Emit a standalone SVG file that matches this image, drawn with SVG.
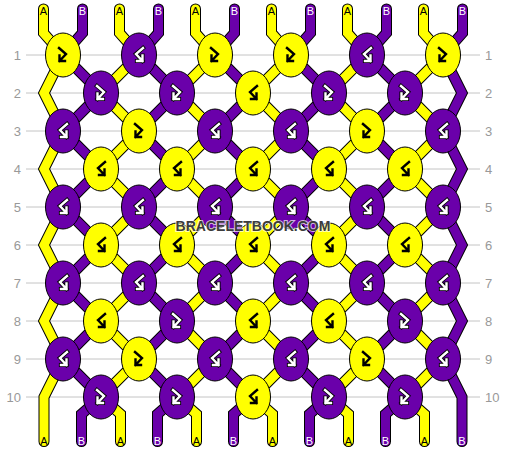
<svg xmlns="http://www.w3.org/2000/svg" xmlns:xlink="http://www.w3.org/1999/xlink" width="506" height="452" viewBox="0 0 506 452">
<style>
.grid line{stroke:#c4c4c4;stroke-width:1}
.rl{font-family:"Liberation Sans",Arial,sans-serif;font-size:13px;fill:#999}
.so{fill:none;stroke:#000;stroke-width:11;stroke-linejoin:miter;stroke-linecap:round}
.sy{fill:none;stroke:#ffff00;stroke-width:9;stroke-linejoin:miter;stroke-linecap:round}
.sp{fill:none;stroke:#6a00aa;stroke-width:9;stroke-linejoin:miter;stroke-linecap:round}
.ky{fill:#ffff00;stroke:#000;stroke-width:1}
.kp{fill:#6a00aa;stroke:#000;stroke-width:1}
.gk{fill:none;stroke:#000;stroke-width:2.4;stroke-linecap:square;stroke-linejoin:miter}
.go{fill:none;stroke:#000;stroke-width:4.2;stroke-linecap:square;stroke-linejoin:miter}
.gw{fill:none;stroke:#fff;stroke-width:2.4;stroke-linecap:square;stroke-linejoin:miter}
.la{font-family:"Liberation Sans",Arial,sans-serif;font-size:11px;text-anchor:middle;fill:#000}
.lb{font-family:"Liberation Sans",Arial,sans-serif;font-size:11px;text-anchor:middle;fill:#fff}
.wm{font-family:"Liberation Sans",Arial,sans-serif;font-size:14px;font-weight:bold;text-anchor:middle;fill:#3c3c3c;stroke:#fff;stroke-width:2;stroke-opacity:0.7;paint-order:stroke}
</style>
<defs>
<path id="fb" d="M-4,-7 L3,-1 L-3.5,6 M-3.5,0.5 V6 H2"/>
<path id="bf" d="M4,-7 L-3,-1 L3.5,6 M3.5,0.5 V6 H-2"/>
</defs>
<g class="grid">
<line x1="26" y1="55" x2="480" y2="55"/><line x1="26" y1="93" x2="480" y2="93"/><line x1="26" y1="131" x2="480" y2="131"/><line x1="26" y1="169" x2="480" y2="169"/><line x1="26" y1="207" x2="480" y2="207"/><line x1="26" y1="245" x2="480" y2="245"/><line x1="26" y1="283" x2="480" y2="283"/><line x1="26" y1="321" x2="480" y2="321"/><line x1="26" y1="359" x2="480" y2="359"/><line x1="26" y1="397" x2="480" y2="397"/>
</g>
<g id="row-labels" class="rl">
<g text-anchor="end">
<text x="21" y="59.5">1</text><text x="21" y="97.5">2</text><text x="21" y="135.5">3</text><text x="21" y="173.5">4</text><text x="21" y="211.5">5</text><text x="21" y="249.5">6</text><text x="21" y="287.5">7</text><text x="21" y="325.5">8</text><text x="21" y="363.5">9</text><text x="21" y="401.5">10</text>
</g>
<g>
<text x="485" y="59.5">1</text><text x="485" y="97.5">2</text><text x="485" y="135.5">3</text><text x="485" y="173.5">4</text><text x="485" y="211.5">5</text><text x="485" y="249.5">6</text><text x="485" y="287.5">7</text><text x="485" y="325.5">8</text><text x="485" y="363.5">9</text><text x="485" y="401.5">10</text>
</g>
</g>
<g id="connectors">
<path id="s1" class="so" d="M43.5,9 V33 L63,55 L44,93 L63,131 L44,169 L63,207 L44,245 L63,283 L44,321 L63,359 L44,397 V441.5"/>
<path class="sy" d="M43.5,9 V33 L63,55 L44,93 L63,131 L44,169 L63,207 L44,245 L63,283 L44,321 L63,359 L44,397 V441.5"/>
<path id="s2" class="so" d="M82.5,9 V33 L63,55 L101,93 L63,131 L101,169 L63,207 L101,245 L63,283 L101,321 L63,359 L101,397 L81.5,414 V441.5"/>
<path class="sp" d="M82.5,9 V33 L63,55 L101,93 L63,131 L101,169 L63,207 L101,245 L63,283 L101,321 L63,359 L101,397 L81.5,414 V441.5"/>
<path id="s3" class="so" d="M119.5,9 V33 L139,55 L101,93 L139,131 L101,169 L139,207 L101,245 L139,283 L101,321 L139,359 L101,397 L120.5,414 V441.5"/>
<path class="sy" d="M119.5,9 V33 L139,55 L101,93 L139,131 L101,169 L139,207 L101,245 L139,283 L101,321 L139,359 L101,397 L120.5,414 V441.5"/>
<path id="s4" class="so" d="M158.5,9 V33 L139,55 L177,93 L139,131 L177,169 L139,207 L177,245 L139,283 L177,321 L139,359 L177,397 L157.5,414 V441.5"/>
<path class="sp" d="M158.5,9 V33 L139,55 L177,93 L139,131 L177,169 L139,207 L177,245 L139,283 L177,321 L139,359 L177,397 L157.5,414 V441.5"/>
<path id="s5" class="so" d="M195.5,9 V33 L215,55 L177,93 L215,131 L177,169 L215,207 L177,245 L215,283 L177,321 L215,359 L177,397 L196.5,414 V441.5"/>
<path class="sy" d="M195.5,9 V33 L215,55 L177,93 L215,131 L177,169 L215,207 L177,245 L215,283 L177,321 L215,359 L177,397 L196.5,414 V441.5"/>
<path id="s6" class="so" d="M234.5,9 V33 L215,55 L253,93 L215,131 L253,169 L215,207 L253,245 L215,283 L253,321 L215,359 L253,397 L233.5,414 V441.5"/>
<path class="sp" d="M234.5,9 V33 L215,55 L253,93 L215,131 L253,169 L215,207 L253,245 L215,283 L253,321 L215,359 L253,397 L233.5,414 V441.5"/>
<path id="s7" class="so" d="M271.5,9 V33 L291,55 L253,93 L291,131 L253,169 L291,207 L253,245 L291,283 L253,321 L291,359 L253,397 L272.5,414 V441.5"/>
<path class="sy" d="M271.5,9 V33 L291,55 L253,93 L291,131 L253,169 L291,207 L253,245 L291,283 L253,321 L291,359 L253,397 L272.5,414 V441.5"/>
<path id="s8" class="so" d="M310.5,9 V33 L291,55 L329,93 L291,131 L329,169 L291,207 L329,245 L291,283 L329,321 L291,359 L329,397 L309.5,414 V441.5"/>
<path class="sp" d="M310.5,9 V33 L291,55 L329,93 L291,131 L329,169 L291,207 L329,245 L291,283 L329,321 L291,359 L329,397 L309.5,414 V441.5"/>
<path id="s9" class="so" d="M347.5,9 V33 L367,55 L329,93 L367,131 L329,169 L367,207 L329,245 L367,283 L329,321 L367,359 L329,397 L348.5,414 V441.5"/>
<path class="sy" d="M347.5,9 V33 L367,55 L329,93 L367,131 L329,169 L367,207 L329,245 L367,283 L329,321 L367,359 L329,397 L348.5,414 V441.5"/>
<path id="s10" class="so" d="M386.5,9 V33 L367,55 L405,93 L367,131 L405,169 L367,207 L405,245 L367,283 L405,321 L367,359 L405,397 L385.5,414 V441.5"/>
<path class="sp" d="M386.5,9 V33 L367,55 L405,93 L367,131 L405,169 L367,207 L405,245 L367,283 L405,321 L367,359 L405,397 L385.5,414 V441.5"/>
<path id="s11" class="so" d="M423.5,9 V33 L443,55 L405,93 L443,131 L405,169 L443,207 L405,245 L443,283 L405,321 L443,359 L405,397 L424.5,414 V441.5"/>
<path class="sy" d="M423.5,9 V33 L443,55 L405,93 L443,131 L405,169 L443,207 L405,245 L443,283 L405,321 L443,359 L405,397 L424.5,414 V441.5"/>
<path id="s12" class="so" d="M462.5,9 V33 L443,55 L462,93 L443,131 L462,169 L443,207 L462,245 L443,283 L462,321 L443,359 L462,397 V441.5"/>
<path class="sp" d="M462.5,9 V33 L443,55 L462,93 L443,131 L462,169 L443,207 L462,245 L443,283 L462,321 L443,359 L462,397 V441.5"/>
</g>
<g id="strand-labels">
<text class="la" x="43.5" y="15">A</text><text class="lb" x="82.5" y="15">B</text><text class="la" x="119.5" y="15">A</text><text class="lb" x="158.5" y="15">B</text><text class="la" x="195.5" y="15">A</text><text class="lb" x="234.5" y="15">B</text><text class="la" x="271.5" y="15">A</text><text class="lb" x="310.5" y="15">B</text><text class="la" x="347.5" y="15">A</text><text class="lb" x="386.5" y="15">B</text><text class="la" x="423.5" y="15">A</text><text class="lb" x="462.5" y="15">B</text>
<text class="la" x="44" y="445">A</text><text class="lb" x="81.5" y="445">B</text><text class="la" x="120.5" y="445">A</text><text class="lb" x="157.5" y="445">B</text><text class="la" x="196.5" y="445">A</text><text class="lb" x="233.5" y="445">B</text><text class="la" x="272.5" y="445">A</text><text class="lb" x="309.5" y="445">B</text><text class="la" x="348.5" y="445">A</text><text class="lb" x="385.5" y="445">B</text><text class="la" x="424.5" y="445">A</text><text class="lb" x="462" y="445">B</text>
</g>
<g id="knots">
<!-- row 1 -->
<g id="k1-1"><ellipse class="ky" cx="63" cy="55" rx="17.5" ry="22"/><use xlink:href="#fb" class="gk" x="63" y="55"/></g>
<g id="k1-2"><ellipse class="kp" cx="139" cy="55" rx="17.5" ry="22"/><use xlink:href="#bf" class="go" x="139" y="55"/><use xlink:href="#bf" class="gw" x="139" y="55"/></g>
<g id="k1-3"><ellipse class="ky" cx="215" cy="55" rx="17.5" ry="22"/><use xlink:href="#fb" class="gk" x="215" y="55"/></g>
<g id="k1-4"><ellipse class="ky" cx="291" cy="55" rx="17.5" ry="22"/><use xlink:href="#fb" class="gk" x="291" y="55"/></g>
<g id="k1-5"><ellipse class="kp" cx="367" cy="55" rx="17.5" ry="22"/><use xlink:href="#bf" class="go" x="367" y="55"/><use xlink:href="#bf" class="gw" x="367" y="55"/></g>
<g id="k1-6"><ellipse class="ky" cx="443" cy="55" rx="17.5" ry="22"/><use xlink:href="#fb" class="gk" x="443" y="55"/></g>
<!-- row 2 -->
<g id="k2-1"><ellipse class="kp" cx="101" cy="93" rx="17.5" ry="22"/><use xlink:href="#fb" class="go" x="101" y="93"/><use xlink:href="#fb" class="gw" x="101" y="93"/></g>
<g id="k2-2"><ellipse class="kp" cx="177" cy="93" rx="17.5" ry="22"/><use xlink:href="#fb" class="go" x="177" y="93"/><use xlink:href="#fb" class="gw" x="177" y="93"/></g>
<g id="k2-3"><ellipse class="ky" cx="253" cy="93" rx="17.5" ry="22"/><use xlink:href="#bf" class="gk" x="253" y="93"/></g>
<g id="k2-4"><ellipse class="kp" cx="329" cy="93" rx="17.5" ry="22"/><use xlink:href="#fb" class="go" x="329" y="93"/><use xlink:href="#fb" class="gw" x="329" y="93"/></g>
<g id="k2-5"><ellipse class="kp" cx="405" cy="93" rx="17.5" ry="22"/><use xlink:href="#fb" class="go" x="405" y="93"/><use xlink:href="#fb" class="gw" x="405" y="93"/></g>
<!-- row 3 -->
<g id="k3-1"><ellipse class="kp" cx="63" cy="131" rx="17.5" ry="22"/><use xlink:href="#bf" class="go" x="63" y="131"/><use xlink:href="#bf" class="gw" x="63" y="131"/></g>
<g id="k3-2"><ellipse class="ky" cx="139" cy="131" rx="17.5" ry="22"/><use xlink:href="#fb" class="gk" x="139" y="131"/></g>
<g id="k3-3"><ellipse class="kp" cx="215" cy="131" rx="17.5" ry="22"/><use xlink:href="#bf" class="go" x="215" y="131"/><use xlink:href="#bf" class="gw" x="215" y="131"/></g>
<g id="k3-4"><ellipse class="kp" cx="291" cy="131" rx="17.5" ry="22"/><use xlink:href="#bf" class="go" x="291" y="131"/><use xlink:href="#bf" class="gw" x="291" y="131"/></g>
<g id="k3-5"><ellipse class="ky" cx="367" cy="131" rx="17.5" ry="22"/><use xlink:href="#fb" class="gk" x="367" y="131"/></g>
<g id="k3-6"><ellipse class="kp" cx="443" cy="131" rx="17.5" ry="22"/><use xlink:href="#bf" class="go" x="443" y="131"/><use xlink:href="#bf" class="gw" x="443" y="131"/></g>
<!-- row 4 -->
<g id="k4-1"><ellipse class="ky" cx="101" cy="169" rx="17.5" ry="22"/><use xlink:href="#bf" class="gk" x="101" y="169"/></g>
<g id="k4-2"><ellipse class="ky" cx="177" cy="169" rx="17.5" ry="22"/><use xlink:href="#bf" class="gk" x="177" y="169"/></g>
<g id="k4-3"><ellipse class="ky" cx="253" cy="169" rx="17.5" ry="22"/><use xlink:href="#bf" class="gk" x="253" y="169"/></g>
<g id="k4-4"><ellipse class="ky" cx="329" cy="169" rx="17.5" ry="22"/><use xlink:href="#bf" class="gk" x="329" y="169"/></g>
<g id="k4-5"><ellipse class="ky" cx="405" cy="169" rx="17.5" ry="22"/><use xlink:href="#bf" class="gk" x="405" y="169"/></g>
<!-- row 5 -->
<g id="k5-1"><ellipse class="kp" cx="63" cy="207" rx="17.5" ry="22"/><use xlink:href="#bf" class="go" x="63" y="207"/><use xlink:href="#bf" class="gw" x="63" y="207"/></g>
<g id="k5-2"><ellipse class="kp" cx="139" cy="207" rx="17.5" ry="22"/><use xlink:href="#bf" class="go" x="139" y="207"/><use xlink:href="#bf" class="gw" x="139" y="207"/></g>
<g id="k5-3"><ellipse class="kp" cx="215" cy="207" rx="17.5" ry="22"/><use xlink:href="#bf" class="go" x="215" y="207"/><use xlink:href="#bf" class="gw" x="215" y="207"/></g>
<g id="k5-4"><ellipse class="kp" cx="291" cy="207" rx="17.5" ry="22"/><use xlink:href="#bf" class="go" x="291" y="207"/><use xlink:href="#bf" class="gw" x="291" y="207"/></g>
<g id="k5-5"><ellipse class="kp" cx="367" cy="207" rx="17.5" ry="22"/><use xlink:href="#bf" class="go" x="367" y="207"/><use xlink:href="#bf" class="gw" x="367" y="207"/></g>
<g id="k5-6"><ellipse class="kp" cx="443" cy="207" rx="17.5" ry="22"/><use xlink:href="#bf" class="go" x="443" y="207"/><use xlink:href="#bf" class="gw" x="443" y="207"/></g>
<!-- row 6 -->
<g id="k6-1"><ellipse class="ky" cx="101" cy="245" rx="17.5" ry="22"/><use xlink:href="#bf" class="gk" x="101" y="245"/></g>
<g id="k6-2"><ellipse class="ky" cx="177" cy="245" rx="17.5" ry="22"/><use xlink:href="#bf" class="gk" x="177" y="245"/></g>
<g id="k6-3"><ellipse class="ky" cx="253" cy="245" rx="17.5" ry="22"/><use xlink:href="#bf" class="gk" x="253" y="245"/></g>
<g id="k6-4"><ellipse class="ky" cx="329" cy="245" rx="17.5" ry="22"/><use xlink:href="#bf" class="gk" x="329" y="245"/></g>
<g id="k6-5"><ellipse class="ky" cx="405" cy="245" rx="17.5" ry="22"/><use xlink:href="#bf" class="gk" x="405" y="245"/></g>
<!-- row 7 -->
<g id="k7-1"><ellipse class="kp" cx="63" cy="283" rx="17.5" ry="22"/><use xlink:href="#bf" class="go" x="63" y="283"/><use xlink:href="#bf" class="gw" x="63" y="283"/></g>
<g id="k7-2"><ellipse class="kp" cx="139" cy="283" rx="17.5" ry="22"/><use xlink:href="#bf" class="go" x="139" y="283"/><use xlink:href="#bf" class="gw" x="139" y="283"/></g>
<g id="k7-3"><ellipse class="kp" cx="215" cy="283" rx="17.5" ry="22"/><use xlink:href="#bf" class="go" x="215" y="283"/><use xlink:href="#bf" class="gw" x="215" y="283"/></g>
<g id="k7-4"><ellipse class="kp" cx="291" cy="283" rx="17.5" ry="22"/><use xlink:href="#bf" class="go" x="291" y="283"/><use xlink:href="#bf" class="gw" x="291" y="283"/></g>
<g id="k7-5"><ellipse class="kp" cx="367" cy="283" rx="17.5" ry="22"/><use xlink:href="#bf" class="go" x="367" y="283"/><use xlink:href="#bf" class="gw" x="367" y="283"/></g>
<g id="k7-6"><ellipse class="kp" cx="443" cy="283" rx="17.5" ry="22"/><use xlink:href="#bf" class="go" x="443" y="283"/><use xlink:href="#bf" class="gw" x="443" y="283"/></g>
<!-- row 8 -->
<g id="k8-1"><ellipse class="ky" cx="101" cy="321" rx="17.5" ry="22"/><use xlink:href="#bf" class="gk" x="101" y="321"/></g>
<g id="k8-2"><ellipse class="kp" cx="177" cy="321" rx="17.5" ry="22"/><use xlink:href="#fb" class="go" x="177" y="321"/><use xlink:href="#fb" class="gw" x="177" y="321"/></g>
<g id="k8-3"><ellipse class="ky" cx="253" cy="321" rx="17.5" ry="22"/><use xlink:href="#bf" class="gk" x="253" y="321"/></g>
<g id="k8-4"><ellipse class="ky" cx="329" cy="321" rx="17.5" ry="22"/><use xlink:href="#bf" class="gk" x="329" y="321"/></g>
<g id="k8-5"><ellipse class="kp" cx="405" cy="321" rx="17.5" ry="22"/><use xlink:href="#fb" class="go" x="405" y="321"/><use xlink:href="#fb" class="gw" x="405" y="321"/></g>
<!-- row 9 -->
<g id="k9-1"><ellipse class="kp" cx="63" cy="359" rx="17.5" ry="22"/><use xlink:href="#bf" class="go" x="63" y="359"/><use xlink:href="#bf" class="gw" x="63" y="359"/></g>
<g id="k9-2"><ellipse class="ky" cx="139" cy="359" rx="17.5" ry="22"/><use xlink:href="#fb" class="gk" x="139" y="359"/></g>
<g id="k9-3"><ellipse class="kp" cx="215" cy="359" rx="17.5" ry="22"/><use xlink:href="#bf" class="go" x="215" y="359"/><use xlink:href="#bf" class="gw" x="215" y="359"/></g>
<g id="k9-4"><ellipse class="kp" cx="291" cy="359" rx="17.5" ry="22"/><use xlink:href="#bf" class="go" x="291" y="359"/><use xlink:href="#bf" class="gw" x="291" y="359"/></g>
<g id="k9-5"><ellipse class="ky" cx="367" cy="359" rx="17.5" ry="22"/><use xlink:href="#fb" class="gk" x="367" y="359"/></g>
<g id="k9-6"><ellipse class="kp" cx="443" cy="359" rx="17.5" ry="22"/><use xlink:href="#bf" class="go" x="443" y="359"/><use xlink:href="#bf" class="gw" x="443" y="359"/></g>
<!-- row 10 -->
<g id="k10-1"><ellipse class="kp" cx="101" cy="397" rx="17.5" ry="22"/><use xlink:href="#fb" class="go" x="101" y="397"/><use xlink:href="#fb" class="gw" x="101" y="397"/></g>
<g id="k10-2"><ellipse class="kp" cx="177" cy="397" rx="17.5" ry="22"/><use xlink:href="#fb" class="go" x="177" y="397"/><use xlink:href="#fb" class="gw" x="177" y="397"/></g>
<g id="k10-3"><ellipse class="ky" cx="253" cy="397" rx="17.5" ry="22"/><use xlink:href="#bf" class="gk" x="253" y="397"/></g>
<g id="k10-4"><ellipse class="kp" cx="329" cy="397" rx="17.5" ry="22"/><use xlink:href="#fb" class="go" x="329" y="397"/><use xlink:href="#fb" class="gw" x="329" y="397"/></g>
<g id="k10-5"><ellipse class="kp" cx="405" cy="397" rx="17.5" ry="22"/><use xlink:href="#fb" class="go" x="405" y="397"/><use xlink:href="#fb" class="gw" x="405" y="397"/></g>
</g>
<text id="watermark" class="wm" x="253" y="231">BRACELETBOOK.COM</text>
</svg>
